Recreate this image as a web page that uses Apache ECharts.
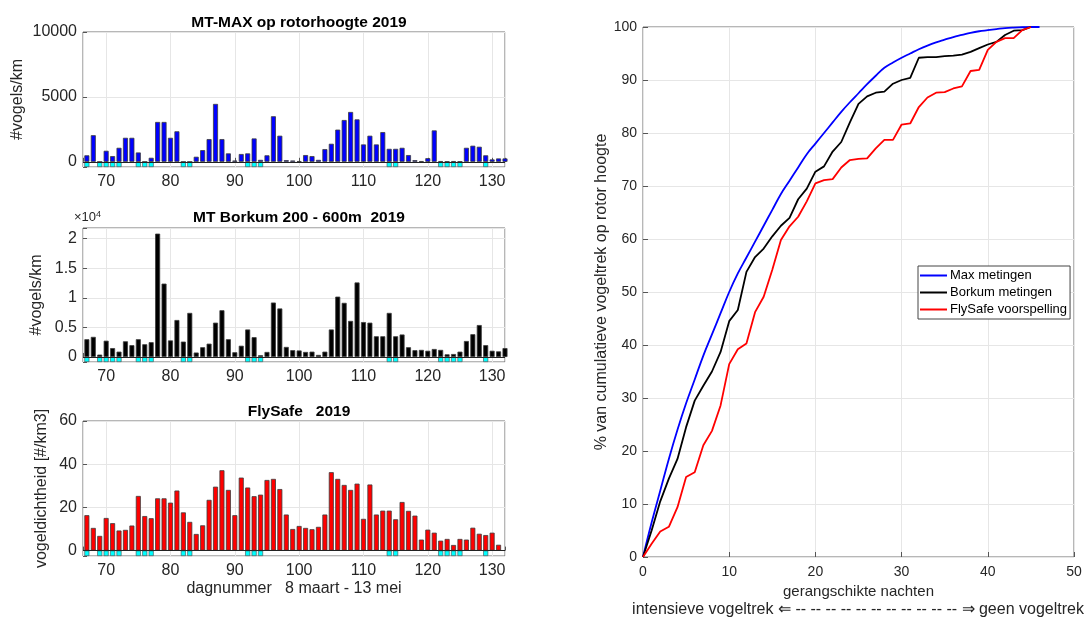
<!DOCTYPE html>
<html>
<head>
<meta charset="utf-8">
<script src="https://cdn.jsdelivr.net/npm/echarts@6/dist/echarts.min.js"></script>
<style>
  html, body { margin: 0; padding: 0; background: #fff; }
  #chart { width: 1088px; height: 618px; }
</style>
</head>
<body>
<div id="chart"></div>
<script>
// dagnummers (8 maart = 67)
const days = [67, 68, 69, 70, 71, 72, 73, 74, 75, 76, 77, 78, 79, 80, 81, 82, 83, 84, 85, 86, 87, 88,
  89, 90, 91, 92, 93, 94, 95, 96, 97, 98, 99, 100, 101, 102, 103, 104, 105, 106, 107, 108, 109, 110,
  111, 112, 113, 114, 115, 116, 117, 118, 119, 120, 121, 122, 123, 124, 125, 126, 127, 128, 129, 130, 131, 132]

// MT-MAX op rotorhoogte, #vogels/km
const maxVals = [500, 2050, 0, 850, 440, 1080, 1850, 1850, 720, 0, 310, 3070, 3070, 1850, 2350, 0, 0, 390,
  900, 1750, 4460, 1750, 650, 100, 600, 650, 1800, 150, 500, 3510, 2010, 130, 100, 50, 520, 440, 150,
  980, 1390, 2480, 3220, 3840, 3270, 1340, 2010, 1340, 2290, 1000, 1000, 1080, 520, 130, 50, 280, 2420,
  50, 30, 50, 30, 1080, 1240, 1160, 500, 185, 260, 260]

// MT Borkum 200 - 600m, #vogels/km
const borkumVals = [3000, 3400, 400, 2750, 1500, 900, 2650, 2000, 3000, 2150, 2500, 20850, 12400, 2800,
  6250, 2600, 7450, 750, 1650, 2250, 5800, 7900, 3000, 800, 1900, 4650, 3350, 300, 850, 9200, 8200, 1700,
  1150, 1100, 850, 900, 350, 900, 4650, 10200, 9150, 6100, 12600, 5900, 5800, 3500, 3500, 7450, 3500,
  3800, 1650, 1150, 1200, 1050, 1350, 1200, 450, 500, 900, 2700, 3850, 5400, 2000, 1050, 950, 1500]

// FlySafe vogeldichtheid [#/km3] (geen waarde voor dag 132)
const flysafeVals = [16.4, 10.5, 6.8, 15.1, 12.7, 9.3, 9.6, 11.6, 25.3, 16.0, 15.0, 24.2, 24.2, 22.2,
  27.8, 17.7, 13.3, 7.7, 11.7, 23.5, 29.6, 37.2, 28.1, 16.4, 33.8, 29.2, 25.2, 25.9, 32.7, 33.2, 28.5,
  16.7, 10.0, 11.4, 10.5, 9.9, 11.0, 16.7, 36.3, 33.2, 30.4, 28.1, 31.0, 14.7, 30.6, 16.7, 18.5, 18.5,
  14.5, 22.5, 18.4, 16.2, 5.1, 9.7, 8.3, 4.6, 5.4, 2.6, 5.4, 5.1, 10.6, 7.8, 7.2, 8.3, 2.7, null]

// dagen met cyaan markering
const cyanDays = [67, 69, 70, 71, 72, 75, 76, 77, 82, 83, 92, 93, 94, 114, 115, 122, 123, 124, 125, 129]

// cumulatieve vogeltrek (%) per gerangschikte nacht 0..n
const maxCum = [0, 6.5, 12.5, 18.5, 24, 29, 33.5, 38, 42, 46, 50, 53.5, 56.5, 59.5, 62.5, 65.5, 68.5,
  71, 73.5, 76, 78, 80, 82, 84, 85.8, 87.5, 89.2, 90.8, 92.3, 93.3, 94.2, 95, 95.8, 96.5, 97.1, 97.6,
  98.1, 98.5, 98.9, 99.2, 99.4, 99.6, 99.8, 99.9, 99.95, 100, 100]
const borkumCum = [0, 5, 10.5, 14.8, 18.5, 24.5, 29.5, 32.3, 35, 38.7, 44.5, 46.6, 53.8, 56.6, 58.2,
  60.5, 62.5, 64, 67.5, 69.5, 72.7, 73.7, 76.5, 78.3, 82, 85.5, 86.9, 87.6, 87.8, 89.3, 90, 90.4, 94.2,
  94.3, 94.3, 94.5, 94.6, 94.8, 95.3, 96, 96.7, 97.2, 98.5, 99.3, 99.4, 100]
const flysafeCum = [0, 2.5, 4.8, 5.7, 9.4, 15.1, 16, 21.1, 23.8, 28.6, 36.4, 39.2, 40.3, 46.2, 49.1,
  54.2, 59.8, 62.4, 64.2, 67.1, 70.5, 71.1, 71.3, 73.5, 74.9, 75.1, 75.2, 77.1, 78.7, 78.7, 81.6, 81.8,
  84.9, 86.7, 87.6, 87.7, 88.4, 88.8, 91.7, 91.9, 95.7, 97.2, 97.9, 97.9, 99.4, 100]

const FONT = 'Liberation Sans, Arial, Helvetica, sans-serif'
const TXT = '#262626'
const GRIDLINE = '#e6e6e6'

const panels = [
  { title: 'MT-MAX op rotorhoogte 2019', titleTop: 10, vals: maxVals, color: '#0000ff',
    yMin: -400, yMax: 10000, step: 5000, yName: '#vogels/km', nameGap: 57, fmt: v => v },
  { title: 'MT Borkum 200 - 600m  2019', titleTop: 205, vals: borkumVals, color: '#000000',
    yMin: -850, yMax: 21800, step: 5000, yName: '#vogels/km', nameGap: 38, fmt: v => v / 10000 },
  { title: 'FlySafe   2019', titleTop: 399, vals: flysafeVals, color: '#ff0000',
    yMin: -2.5, yMax: 60, step: 20, yName: 'vogeldichtheid [#/km3]', nameGap: 33, fmt: v => v }
]

const chart = echarts.init(document.getElementById('chart'))

const grids = [
  { left: 83, top: 32, width: 422, height: 135 },
  { left: 83, top: 228, width: 422, height: 134 },
  { left: 83, top: 421, width: 422, height: 135 },
  { left: 643, top: 27, width: 431, height: 530 }
].map((g) => ({ ...g, show: true, borderColor: '#6f6f6f', borderWidth: 1, backgroundColor: '#fff' }))

const xAxes = []
const yAxes = []
const series = []

panels.forEach((p, i) => {
  xAxes.push({
    type: 'value',
    gridIndex: i,
    min: 66.4,
    max: 132,
    minInterval: 10,
    maxInterval: 10,
    name: i === 2 ? 'dagnummer   8 maart - 13 mei' : '',
    nameLocation: 'middle',
    nameGap: 25,
    nameTextStyle: { fontFamily: FONT, fontSize: 16, color: TXT },
    axisLine: { show: false },
    axisTick: { inside: true, length: 4, lineStyle: { color: '#555' } },
    axisLabel: {
      fontFamily: FONT, fontSize: 16, color: TXT, margin: 7,
      formatter: (v) => (v % 10 === 0 ? String(v) : '')
    },
    splitLine: { show: true, lineStyle: { color: GRIDLINE } }
  })
  yAxes.push({
    type: 'value',
    gridIndex: i,
    min: p.yMin,
    max: p.yMax,
    minInterval: p.step,
    maxInterval: p.step,
    name: p.yName,
    nameLocation: 'middle',
    nameGap: p.nameGap,
    nameTextStyle: { fontFamily: FONT, fontSize: 16, color: TXT },
    axisLine: { show: false },
    axisTick: { inside: true, length: 4, lineStyle: { color: '#555' } },
    axisLabel: {
      fontFamily: FONT, fontSize: 16, color: TXT, margin: 6,
      formatter: (v) => (v >= 0 && Math.abs(v % p.step) < 1e-9 ? String(p.fmt(v)) : '')
    },
    splitLine: { show: true, lineStyle: { color: GRIDLINE } }
  })
  series.push({
    type: 'bar',
    xAxisIndex: i,
    yAxisIndex: i,
    barWidth: 5,
    barGap: '-100%',
    clip: true,
    data: days.map((d, k) => [d, p.vals[k]]),
    itemStyle: { color: p.color, borderColor: '#3c3c3c', borderWidth: 0.8 },
    markLine: {
      silent: true,
      symbol: 'none',
      label: { show: false },
      lineStyle: { color: '#222', width: 1, type: 'solid' },
      data: [{ yAxis: 0 }]
    },
    z: 3
  })
  series.push({
    type: 'bar',
    xAxisIndex: i,
    yAxisIndex: i,
    barWidth: 5,
    barGap: '-100%',
    data: cyanDays.map((d) => [d, p.yMin]),
    itemStyle: { color: '#00ffff', borderColor: '#4a4a4a', borderWidth: 0.6 },
    z: 3
  })
})

// rechter paneel
xAxes.push({
  type: 'value',
  gridIndex: 3,
  min: 0,
  max: 50,
  interval: 10,
  name: 'gerangschikte nachten',
  nameLocation: 'middle',
  nameGap: 25,
  nameTextStyle: { fontFamily: FONT, fontSize: 15, color: TXT },
  axisLine: { show: false },
  axisTick: { inside: true, length: 5, lineStyle: { color: '#555' } },
  axisLabel: { fontFamily: FONT, fontSize: 14, color: TXT, margin: 8 },
  splitLine: { show: true, lineStyle: { color: GRIDLINE } }
})
yAxes.push({
  type: 'value',
  gridIndex: 3,
  min: 0,
  max: 100,
  interval: 10,
  name: '% van cumulatieve vogeltrek op rotor hoogte',
  nameLocation: 'middle',
  nameGap: 31,
  nameTextStyle: { fontFamily: FONT, fontSize: 16, color: TXT },
  axisLine: { show: false },
  axisTick: { inside: true, length: 5, lineStyle: { color: '#555' } },
  axisLabel: { fontFamily: FONT, fontSize: 14, color: TXT, margin: 6 },
  splitLine: { show: true, lineStyle: { color: GRIDLINE } }
})

const lines = [
  { name: 'Max metingen', data: maxCum, color: '#0000ff', smooth: 0.4 },
  { name: 'Borkum metingen', data: borkumCum, color: '#000000', smooth: false },
  { name: 'FlySafe voorspelling', data: flysafeCum, color: '#ff0000', smooth: false }
]
lines.forEach((l) => {
  series.push({
    name: l.name,
    type: 'line',
    xAxisIndex: 3,
    yAxisIndex: 3,
    symbol: 'none',
    smooth: l.smooth,
    data: l.data.map((v, k) => [k, v]),
    lineStyle: { color: l.color, width: 1.8 },
    itemStyle: { color: l.color },
    z: 4
  })
})

chart.setOption({
  animation: false,
  textStyle: { fontFamily: FONT },
  title: panels.map((p) => ({
    text: p.title,
    left: 294,
    top: p.titleTop,
    textAlign: 'center',
    textStyle: { fontFamily: FONT, fontSize: 15.5, fontWeight: 'bold', color: '#000' }
  })),
  legend: {
    data: lines.map((l) => l.name),
    orient: 'vertical',
    left: 918,
    top: 266,
    padding: [3, 3, 3, 2],
    itemGap: 4,
    itemWidth: 27,
    itemHeight: 2,
    icon: 'rect',
    backgroundColor: '#fff',
    borderColor: '#444',
    borderWidth: 1,
    borderRadius: 0,
    textStyle: { fontFamily: FONT, fontSize: 13, color: '#000', padding: [0, 0, 0, -2] }
  },
  grid: grids,
  xAxis: xAxes,
  yAxis: yAxes,
  series: series,
  graphic: [
    {
      type: 'text',
      left: 74,
      top: 210,
      style: {
        text: '{a|×10}{b|4}',
        rich: {
          a: { fontFamily: FONT, fontSize: 13, fill: TXT },
          b: { fontFamily: FONT, fontSize: 9, fill: TXT, verticalAlign: 'top', padding: [0, 0, 6, 0] }
        }
      }
    },
    {
      type: 'text',
      x: 858,
      y: 610,
      style: {
        text: 'intensieve vogeltrek \u21d0 -- -- -- -- -- -- -- -- -- -- -- \u21d2 geen vogeltrek',
        fontFamily: FONT,
        fontSize: 16,
        fill: TXT,
        align: 'center',
        verticalAlign: 'middle'
      }
    }
  ]
})
</script>
</body>
</html>
